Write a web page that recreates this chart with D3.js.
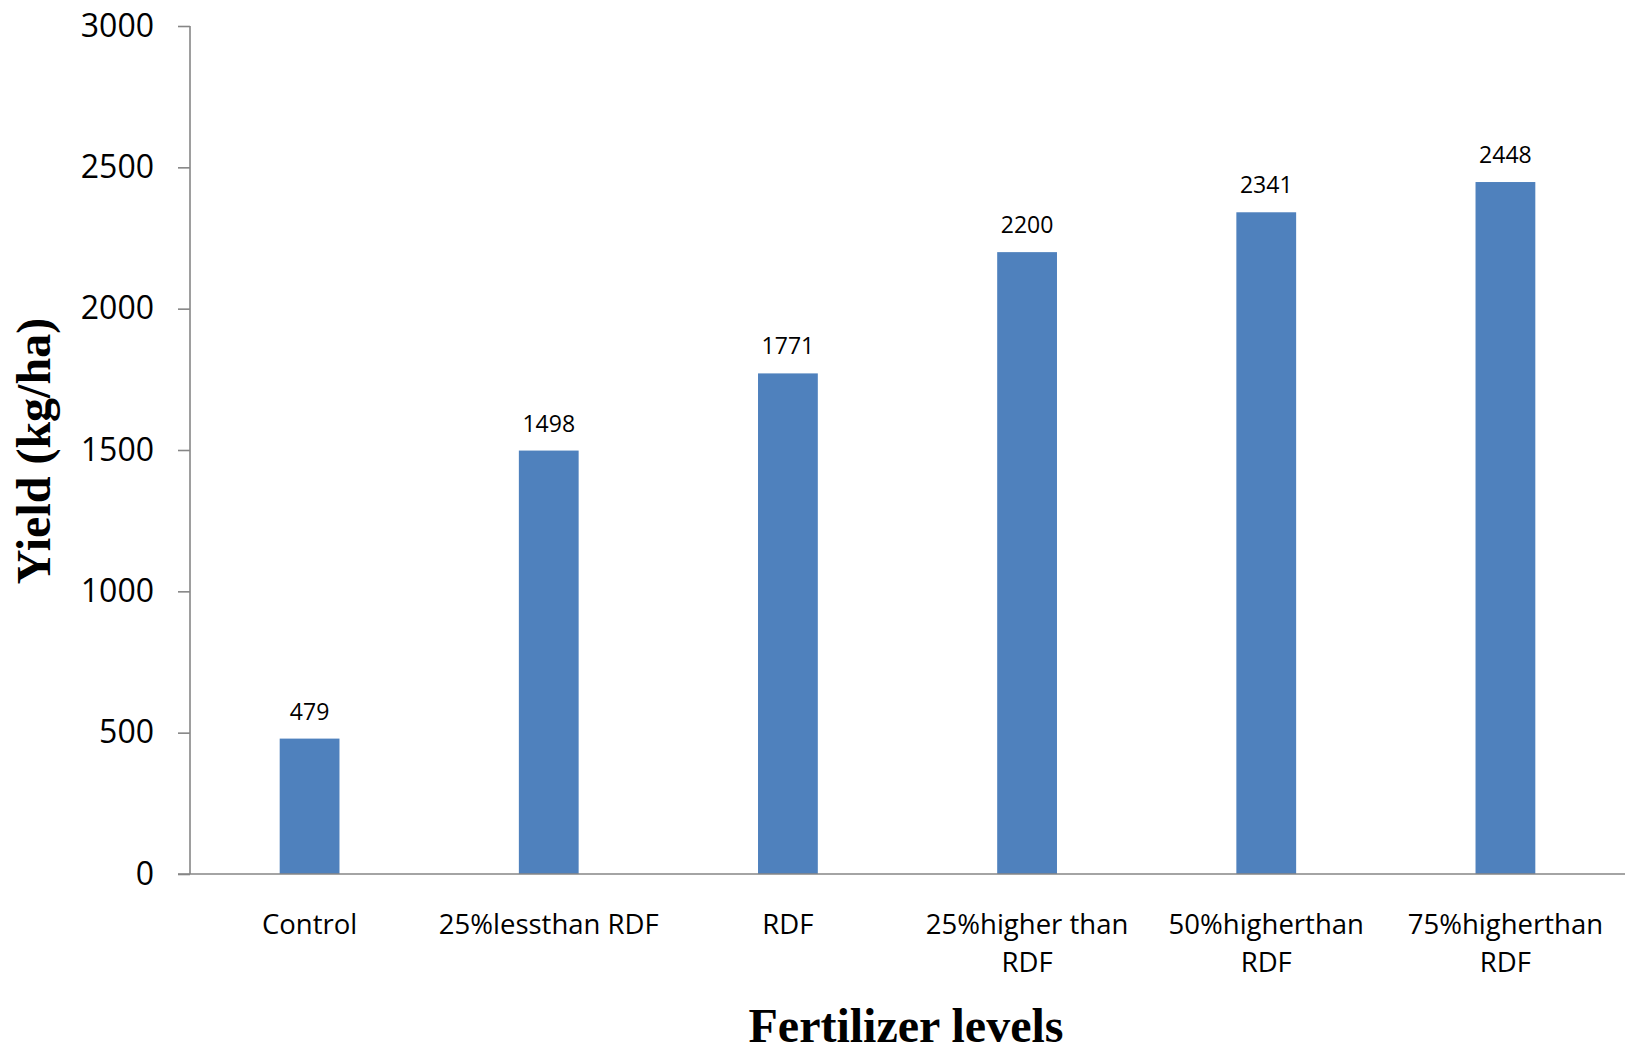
<!DOCTYPE html>
<html>
<head>
<meta charset="utf-8">
<script src="https://cdn.jsdelivr.net/npm/d3@7"></script>
<style>
  html, body { margin: 0; padding: 0; background: #fff; }
  svg { display: block; }
</style>
</head>
<body>
<svg id="chart" width="1626" height="1052"></svg>
<script>
const categories = ["Control", "25%lessthan RDF", "RDF", "25%higher than\nRDF", "50%higherthan\nRDF", "75%higherthan\nRDF"];
const yieldValues = [479, 1498, 1771, 2200, 2341, 2448];
const yTicks = [0, 500, 1000, 1500, 2000, 2500, 3000];
const yTitle = "Yield (kg/ha)";
const xTitle = "Fertilizer levels";

(function () {
const svg = d3.select("#chart");
const mLeft = 190, mRight = 1625, mTop = 26, mBottom = 874;
const axisColor = "#868686";

const x = d3.scaleBand().domain(categories).range([mLeft, mRight]).paddingInner(0.75).paddingOuter(0.375);
const y = d3.scaleLinear().domain([0, 3000]).range([mBottom, mTop]);

// Y axis
const yAxis = svg.append("g").attr("transform", `translate(${mLeft},0)`)
  .call(d3.axisLeft(y).tickValues(yTicks).tickSize(12).tickPadding(24).tickFormat(d3.format("d")));
yAxis.select(".domain").attr("d", `M0,${mTop}V${mBottom}`).attr("stroke", axisColor).attr("stroke-width", 1.6);
yAxis.selectAll(".tick line").attr("stroke", axisColor).attr("stroke-width", 1.6);
yAxis.selectAll(".tick text").attr("font-family", "'Open Sans', sans-serif").attr("font-size", 32).attr("fill", "#000");

// Bars
svg.append("g").selectAll("rect").data(yieldValues).join("rect")
  .attr("x", (d, i) => x(categories[i]))
  .attr("y", d => y(d))
  .attr("width", x.bandwidth())
  .attr("height", d => y(0) - y(d))
  .attr("fill", "#4F81BD");

// Data labels
svg.append("g").selectAll("text").data(yieldValues).join("text")
  .attr("x", (d, i) => x(categories[i]) + x.bandwidth() / 2)
  .attr("y", d => y(d) - 19)
  .attr("text-anchor", "middle")
  .attr("font-family", "'Open Sans', sans-serif")
  .attr("font-size", 23)
  .attr("fill", "#000")
  .text(d => d);

// X axis
const xAxis = svg.append("g").attr("transform", `translate(0,${mBottom})`)
  .call(d3.axisBottom(x).tickSize(0).tickPadding(0));
xAxis.select(".domain").attr("d", `M${mLeft - 12},0H${mRight}`).attr("stroke", axisColor).attr("stroke-width", 1.6);
xAxis.selectAll(".tick text").each(function(d) {
  const t = d3.select(this);
  t.text(null).attr("y", 0).attr("dy", null)
    .attr("font-family", "'Open Sans', sans-serif").attr("font-size", 27.5).attr("fill", "#000");
  d.split("\n").forEach((line, i) => {
    t.append("tspan").attr("x", 0).attr("y", 60 + i * 38).text(line);
  });
});

// Axis titles
svg.append("text")
  .attr("transform", `translate(50,451) rotate(-90)`)
  .attr("text-anchor", "middle")
  .attr("font-family", "'Liberation Serif', 'Times New Roman', serif")
  .attr("font-weight", "bold").attr("font-size", 48).attr("fill", "#000")
  .text(yTitle);

svg.append("text")
  .attr("x", 906).attr("y", 1042)
  .attr("text-anchor", "middle")
  .attr("font-family", "'Liberation Serif', 'Times New Roman', serif")
  .attr("font-weight", "bold").attr("font-size", 48).attr("fill", "#000")
  .text(xTitle);
})();
</script>
</body>
</html>
